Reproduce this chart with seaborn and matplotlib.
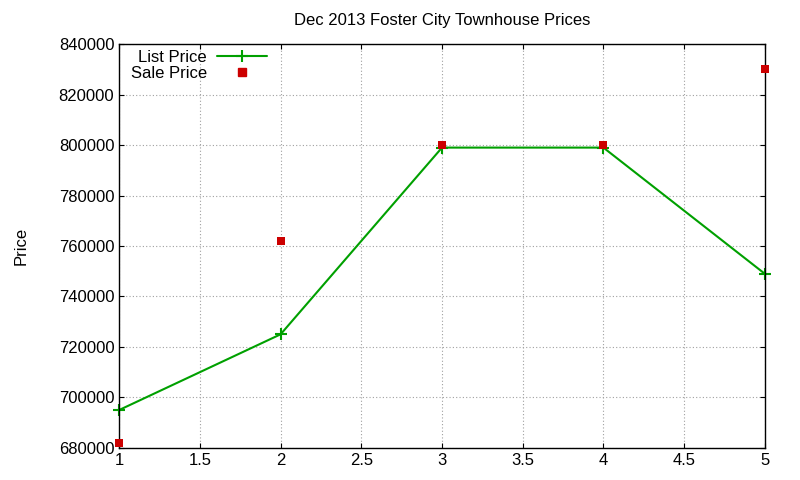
import matplotlib
matplotlib.use("Agg")
import matplotlib.pyplot as plt
from matplotlib.lines import Line2D
import seaborn as sns
import pandas as pd

x = [1, 2, 3, 4, 5]
list_price = [695000, 725000, 799000, 799000, 749000]
sale_price = [682000, 762000, 800000, 800000, 830000]

sns.set_style("ticks")
plt.rcParams['font.family'] = ['Liberation Sans', 'DejaVu Sans']
plt.rcParams['text.color'] = 'black'
plt.rcParams['xtick.color'] = 'black'
plt.rcParams['ytick.color'] = 'black'
plt.rcParams['axes.labelcolor'] = 'black'
fig = plt.figure(figsize=(8, 4.8), dpi=100)
ax = fig.add_axes([0.149, 0.067, 0.807, 0.841])
df = pd.DataFrame({"x": x, "list": list_price, "sale": sale_price})
green = "#00a000"
red = "#cc0000"
sns.lineplot(data=df, x="x", y="list", ax=ax, color=green, marker="+",
             markersize=8, markeredgewidth=1.5, markeredgecolor=green,
             linewidth=1.5, legend=False, clip_on=False)
sns.scatterplot(data=df, x="x", y="sale", ax=ax, color=red, marker="s",
                s=40, linewidth=0, legend=False, zorder=5, clip_on=False)
ax.set_xlim(1, 5)
ax.set_ylim(680000, 840000)
ax.set_xticks([1, 1.5, 2, 2.5, 3, 3.5, 4, 4.5, 5])
ax.set_xticklabels(["1", "1.5", "2", "2.5", "3", "3.5", "4", "4.5", "5"])
ax.set_yticks(range(680000, 840001, 20000))
ax.ticklabel_format(axis="y", style="plain", useOffset=False)
ax.grid(True, color="#a0a0a0", linestyle=(0, (1, 2)), linewidth=0.8)
ax.tick_params(direction="in", top=True, right=True, labelsize=12)
for s in ax.spines.values():
    s.set_color("black")
    s.set_linewidth(1)
ax.set_xlabel("")
ax.set_ylabel("Price", fontsize=12, labelpad=22)
ax.set_title("Dec 2013 Foster City Townhouse Prices", fontsize=12, pad=14)
handles = [Line2D([], [], color=green, marker="+", markersize=8, markeredgewidth=1.5, linewidth=1.5),
           Line2D([], [], color=red, marker="s", markersize=6, linestyle="none")]
ax.legend(handles, ["List Price", "Sale Price"], loc="upper left",
          bbox_to_anchor=(0.0, 1.015), frameon=False, markerfirst=False,
          fontsize=12, handlelength=3, borderaxespad=0.3,
          handletextpad=0.6, labelspacing=0.05)
fig.savefig("out.png", dpi=100)
